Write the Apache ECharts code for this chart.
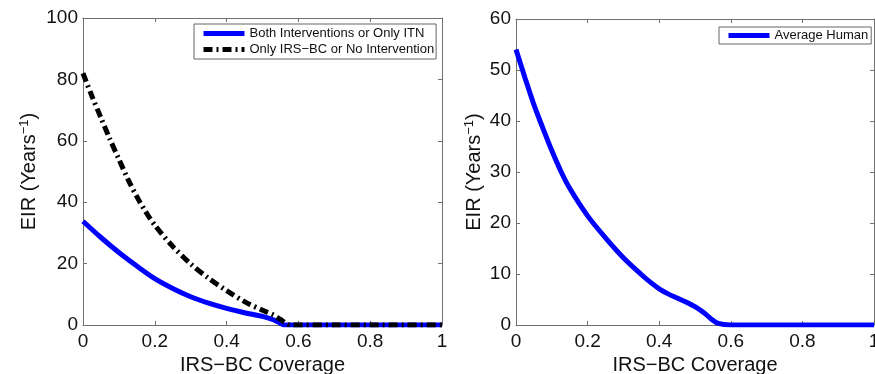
<!DOCTYPE html>
<html>
<head>
<meta charset="utf-8">
<script src="https://cdn.jsdelivr.net/npm/echarts@6/dist/echarts.min.js"></script>
<style>
  html, body {margin: 0; padding: 0; background: #fff;}
  #chart {width: 875px; height: 374px;}
</style>
</head>
<body>
<div id="chart"></div>
<script>
// left panel: both interventions / only ITN (blue)
const bothX = [0, 0.05, 0.1, 0.15, 0.2, 0.25, 0.3, 0.35, 0.4, 0.45, 0.5, 0.53, 0.55, 0.56, 0.6, 0.7, 0.8, 0.9, 1];
const bothY = [33.8, 28.5, 23.6, 19.2, 15.1, 11.9, 9.2, 7.1, 5.4, 4.0, 2.8, 1.7, 0.6, 0, 0, 0, 0, 0, 0];
// left panel: only IRS-BC / no intervention (black dash-dot)
const noneX = [0, 0.025, 0.05, 0.075, 0.1, 0.125, 0.15, 0.175, 0.2, 0.25, 0.3, 0.35, 0.4, 0.45, 0.5, 0.53, 0.55, 0.57, 0.58, 0.7, 0.8, 0.9, 1];
const noneY = [82, 74.5, 67.5, 60.5, 54, 47.5, 41.8, 36.8, 32.5, 25.6, 19.9, 15.2, 11.2, 7.6, 4.8, 3.3, 1.8, 0.3, 0, 0, 0, 0, 0];
// right panel: average human (blue)
const avgX = [0, 0.025, 0.05, 0.075, 0.1, 0.125, 0.15, 0.2, 0.25, 0.3, 0.35, 0.375, 0.4, 0.425, 0.45, 0.475, 0.5, 0.525, 0.545, 0.565, 0.6, 0.7, 0.8, 0.9, 1];
const avgY = [54, 48.5, 43.2, 38.6, 34.2, 30.2, 26.8, 21.4, 17.1, 13.2, 9.9, 8.4, 7.1, 6.1, 5.3, 4.5, 3.6, 2.4, 1.2, 0.3, 0, 0, 0, 0, 0];

const leftYTicks = {min: 0, max: 100, interval: 20};
const rightYTicks = {min: 0, max: 60, interval: 10};
const xTicks = {min: 0, max: 1, interval: 0.2};

const seriesNames = ['Both Interventions or Only ITN', 'Only IRS\u2212BC or No Intervention', 'Average Human'];

const pair = (xs, ys) => xs.map((x, i) => [x, ys[i]]);

const font = 'Liberation Sans, Arial, Helvetica, sans-serif';
const axisColor = '#707070';
const textColor = '#111';

const line = {show: true, onZero: false, lineStyle: {color: axisColor, width: 1}};
const tick = {show: true, inside: true, length: 4, lineStyle: {color: axisColor}};

const mainX = (gi) => ({
  type: 'value', gridIndex: gi, ...xTicks, position: 'bottom',
  name: 'IRS\u2212BC Coverage', nameLocation: 'middle', nameGap: 25,
  nameTextStyle: {fontSize: 20, color: textColor, fontFamily: font},
  axisLine: line, axisTick: tick,
  axisLabel: {fontSize: 19, color: textColor, fontFamily: font, margin: 7},
  splitLine: {show: false}
});
const mirrorX = (gi) => ({
  type: 'value', gridIndex: gi, ...xTicks, position: 'top',
  axisLine: line, axisTick: tick,
  axisLabel: {show: false}, splitLine: {show: false}
});
const mainY = (gi, ticks, gap) => ({
  type: 'value', gridIndex: gi, ...ticks, position: 'left',
  name: 'EIR (Years{sup|\u22121})', nameLocation: 'middle', nameGap: gap, nameRotate: 90,
  nameTextStyle: {fontSize: 20, color: textColor, fontFamily: font,
    rich: {sup: {fontSize: 13, color: textColor, fontFamily: font, padding: [0, 0, 10, 0]}}},
  axisLine: line, axisTick: tick,
  axisLabel: {fontSize: 19, color: textColor, fontFamily: font, margin: 5},
  splitLine: {show: false}
});
const mirrorY = (gi, ticks) => ({
  type: 'value', gridIndex: gi, ...ticks, position: 'right',
  axisLine: line, axisTick: tick,
  axisLabel: {show: false}, splitLine: {show: false}
});

const legendBase = {
  orient: 'vertical',
  itemWidth: 41, itemHeight: 13, itemGap: 3,
  borderColor: '#666', borderWidth: 1, backgroundColor: '#fff', borderRadius: 0,
  textStyle: {fontSize: 13, color: textColor, fontFamily: font},
  itemStyle: {opacity: 0},
  lineStyle: {width: 5}
};

const chart = echarts.init(document.getElementById('chart'), null, {renderer: 'canvas'});
chart.setOption({
  animation: false,
  backgroundColor: '#fff',
  grid: [
    {left: 83, top: 18, width: 359, height: 307, outerBoundsMode: 'none', containLabel: false},
    {left: 516, top: 19, width: 358, height: 306, outerBoundsMode: 'none', containLabel: false}
  ],
  xAxis: [mainX(0), mirrorX(0), mainX(1), mirrorX(1)],
  yAxis: [mainY(0, leftYTicks, 42), mirrorY(0, leftYTicks), mainY(1, rightYTicks, 30), mirrorY(1, rightYTicks)],
  legend: [
    {
      ...legendBase,
      data: [seriesNames[0], seriesNames[1]],
      left: 194, top: 24,
      padding: [3, 2, 3, 7]
    },
    {
      ...legendBase,
      data: [seriesNames[2]],
      left: 719, top: 27,
      padding: [2, 3, 2, 7]
    }
  ],
  series: [
    {
      name: seriesNames[0], type: 'line', xAxisIndex: 0, yAxisIndex: 0,
      data: pair(bothX, bothY), smooth: 0.3, symbol: 'none', z: 2,
      lineStyle: {color: '#0000ff', width: 5}, itemStyle: {color: '#0000ff'}
    },
    {
      name: seriesNames[1], type: 'line', xAxisIndex: 0, yAxisIndex: 0,
      data: pair(noneX, noneY), smooth: 0.3, symbol: 'none', z: 3,
      lineStyle: {color: '#000', width: 5, type: [9, 4, 2, 4]}, itemStyle: {color: '#000'}
    },
    {
      name: seriesNames[2], type: 'line', xAxisIndex: 2, yAxisIndex: 2,
      data: pair(avgX, avgY), smooth: 0.3, symbol: 'none', z: 2,
      lineStyle: {color: '#0000ff', width: 5}, itemStyle: {color: '#0000ff'}
    }
  ]
});
</script>
</body>
</html>
